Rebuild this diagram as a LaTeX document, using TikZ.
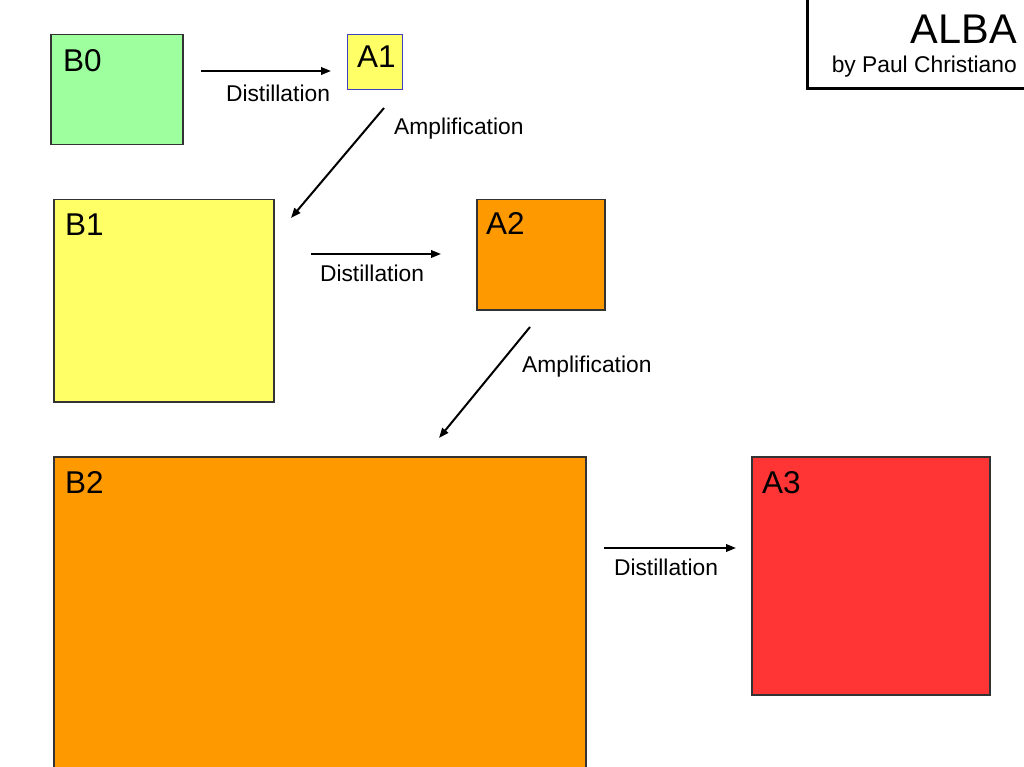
\documentclass[tikz,border=0pt]{standalone}
\usepackage{fontspec}
\setmainfont{Liberation Sans}
\usetikzlibrary{arrows.meta}
\definecolor{bgreen}{HTML}{9EFF9E}
\definecolor{byellow}{HTML}{FFFF66}
\definecolor{borange}{HTML}{FF9900}
\definecolor{bred}{HTML}{FF3535}
\definecolor{bedge}{HTML}{333333}
\definecolor{blueedge}{HTML}{4040C0}
\begin{document}
\begin{tikzpicture}[x=1pt,y=-1pt,
  box/.style={draw=bedge,line width=1.5pt,rectangle,inner sep=0pt,anchor=north west},
  boxlabel/.style={anchor=base west,inner sep=0pt,font=\fontsize{31.5}{35}\selectfont},
  lbl/.style={inner sep=0pt,font=\fontsize{22.8}{26}\selectfont},
  arr/.style={line width=2pt,-{Triangle[length=10pt,width=7.5pt]}}]
\useasboundingbox (0,0) rectangle (1024,767);
\clip (0,0) rectangle (1024,767);
\fill[white] (0,0) rectangle (1024,767);
% boxes
\node[box,fill=bgreen,minimum width=132pt,minimum height=110pt] (B0) at (50,34) {};
\node[box,fill=byellow,draw=blueedge,line width=1pt,minimum width=55pt,minimum height=55pt] (A1) at (347,34) {};
\node[box,fill=byellow,minimum width=220pt,minimum height=202pt] (B1) at (53,199) {};
\node[box,fill=borange,minimum width=128pt,minimum height=110pt] (A2) at (476,199) {};
\node[box,fill=borange,minimum width=532pt,minimum height=330pt] (B2) at (53,456) {};
\node[box,fill=bred,minimum width=238pt,minimum height=238pt] (A3) at (751,456) {};
% box labels
\node[boxlabel] (tB0) at (63,72) {B0};
\node[boxlabel] (tA1) at (357,68) {A1};
\node[boxlabel] (tB1) at (65,236) {B1};
\node[boxlabel] (tA2) at (486,235) {A2};
\node[boxlabel] (tB2) at (65,493) {B2};
\node[boxlabel] (tA3) at (762,493) {A3};
% title box
\draw[line width=3pt] (807,-5) -- (807,89) -- (1030,89);
\node[anchor=base east,inner sep=0pt,font=\fontsize{41.5}{45}\selectfont] (title) at (1017,44) {ALBA};
\node[anchor=base east,inner sep=0pt,font=\fontsize{22.8}{26}\selectfont] (author) at (1017,73) {by Paul Christiano};
% arrow ends
\coordinate (d1s) at (201,71); \coordinate (d1e) at (331,71);
\coordinate (a1s) at (384,108); \coordinate (a1e) at (291,218);
\coordinate (d2s) at (311,254); \coordinate (d2e) at (441,254);
\coordinate (a2s) at (530,327); \coordinate (a2e) at (439,438);
\coordinate (d3s) at (604,548); \coordinate (d3e) at (736,548);
\draw[arr] (d1s) -- (d1e);
\draw[arr] (a1s) -- (a1e);
\draw[arr] (d2s) -- (d2e);
\draw[arr] (a2s) -- (a2e);
\draw[arr] (d3s) -- (d3e);
% arrow labels
\node[lbl,anchor=base] (ld1) at (278,102) {Distillation};
\node[lbl,anchor=base west] (la1) at (394,135) {Amplification};
\node[lbl,anchor=base] (ld2) at (372,281) {Distillation};
\node[lbl,anchor=base west] (la2) at (522,372) {Amplification};
\node[lbl,anchor=base] (ld3) at (666,575) {Distillation};
\end{tikzpicture}
\end{document}
